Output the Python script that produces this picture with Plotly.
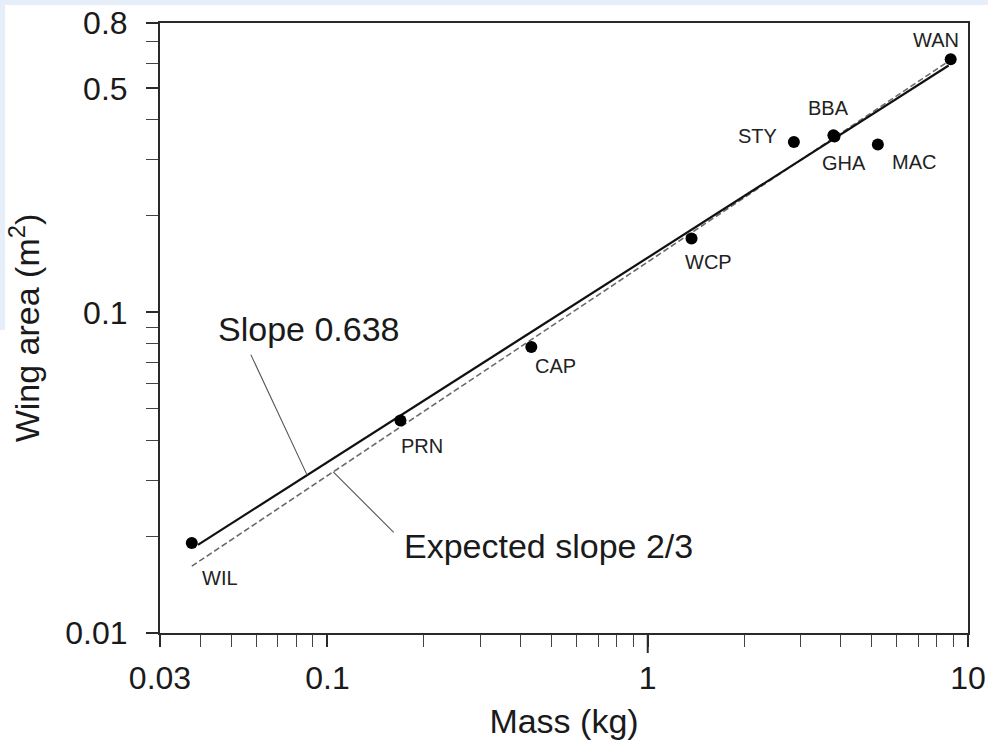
import numpy as np
import plotly.graph_objects as go

# ---- data ----
species = ["WIL", "PRN", "CAP", "WCP", "STY", "BBA", "GHA", "MAC", "WAN"]
mass_kg = [0.0377, 0.169, 0.433, 1.37, 2.86, 3.80, 3.83, 5.23, 8.83]
wing_area_m2 = [0.0191, 0.046, 0.078, 0.170, 0.340, 0.357, 0.354, 0.334, 0.617]

fit_slope = 0.638
fit_log_intercept = -0.829
fit_x_range = [0.0394, 8.70]

expected_slope = 2 / 3
expected_log_intercept = -0.8425
expected_x_range = [0.0377, 8.62]

x_tick_vals = [0.03, 0.1, 1, 10]
x_tick_text = ["0.03", "0.1", "1", "10"]
y_tick_vals = [0.01, 0.1, 0.5, 0.8]
y_tick_text = ["0.01", "0.1", "0.5", "0.8"]
x_minor = [0.04, 0.05, 0.06, 0.07, 0.08, 0.09, 0.2, 0.3, 0.4, 0.5, 0.6, 0.7, 0.8, 0.9,
           2, 3, 4, 5, 6, 7, 8, 9]
y_minor = [0.02, 0.03, 0.04, 0.05, 0.06, 0.07, 0.08, 0.09, 0.2, 0.3, 0.4, 0.6, 0.7]
x_decades = [0.1, 1, 10]
y_decades = [0.01, 0.1]


def power_line(xr, slope, logb):
    xs = np.array(xr)
    return xs, 10 ** (logb + slope * np.log10(xs))


FONT = "Liberation Sans, Arial, Helvetica, sans-serif"
AX = "#2a2a2a"

fig = go.Figure()

fx, fy = power_line(fit_x_range, fit_slope, fit_log_intercept)
ex, ey = power_line(expected_x_range, expected_slope, expected_log_intercept)

fig.add_trace(go.Scatter(x=ex, y=ey, mode="lines",
                         line=dict(color="#6a6a6a", width=1.6, dash="6px,3px"),
                         showlegend=False, hoverinfo="skip"))
fig.add_trace(go.Scatter(x=fx, y=fy, mode="lines",
                         line=dict(color="#111111", width=2.2),
                         showlegend=False, hoverinfo="skip"))
fig.add_trace(go.Scatter(x=mass_kg, y=wing_area_m2, mode="markers",
                         marker=dict(color="black", size=12),
                         text=species, showlegend=False))

# point labels: pixel offsets from each point
label_offsets = {
    "WIL": (28, -35), "PRN": (22, -25), "CAP": (24, -19), "WCP": (17, -23),
    "STY": (-36, 6), "BBA": (-5, 27), "GHA": (9, -26), "MAC": (36, -17),
    "WAN": (-15, 19),
}
for s, xv, yv in zip(species, mass_kg, wing_area_m2):
    dx, dy = label_offsets[s]
    fig.add_annotation(x=np.log10(xv), y=np.log10(yv), text=s, showarrow=False,
                       xshift=dx, yshift=dy, xanchor="center", yanchor="middle",
                       font=dict(family=FONT, size=20, color="#222"))

# leader lines from the labels to the two lines
lead1_x = 0.0864
lead1_y = 10 ** (fit_log_intercept + fit_slope * np.log10(lead1_x))
fig.add_annotation(x=np.log10(lead1_x), y=np.log10(lead1_y), ax=-57, ay=-122,
                   showarrow=True, arrowhead=0, arrowwidth=1.1, arrowcolor="#555",
                   text="")
lead2_x = 0.1042
lead2_y = 10 ** (expected_log_intercept + expected_slope * np.log10(lead2_x))
fig.add_annotation(x=np.log10(lead2_x), y=np.log10(lead2_y), ax=62, ay=62,
                   showarrow=True, arrowhead=0, arrowwidth=1.1, arrowcolor="#555",
                   text="")

fig.add_annotation(xref="paper", yref="paper", x=(216 - 160) / 808, y=(633 - 329) / 610,
                   xanchor="left", yanchor="middle", showarrow=False,
                   text="Slope 0.638", font=dict(family=FONT, size=34, color="#1a1a1a"))
fig.add_annotation(xref="paper", yref="paper", x=(402 - 160) / 808, y=(633 - 546) / 610,
                   xanchor="left", yanchor="middle", showarrow=False,
                   text="Expected slope 2/3", font=dict(family=FONT, size=34, color="#1a1a1a"))

# longer ticks at decades
shapes = []
for v in x_decades:
    shapes.append(dict(type="line", xref="x", yref="y domain", x0=np.log10(v), x1=np.log10(v),
                       y0=0, y1=-20 / 610, line=dict(color=AX, width=2)))
for v in y_decades:
    shapes.append(dict(type="line", xref="x domain", yref="y", y0=np.log10(v), y1=np.log10(v),
                       x0=0, x1=-18 / 808, line=dict(color=AX, width=2)))
# light blue page edges
shapes.append(dict(type="rect", xref="paper", yref="paper", layer="below",
                   x0=-160 / 808, x1=1 + 20 / 808, y0=1 + 18 / 610, y1=1 + 23 / 610,
                   fillcolor="#e6eef9", line=dict(width=0)))
shapes.append(dict(type="rect", xref="paper", yref="paper", layer="below",
                   x0=-160 / 808, x1=-155 / 808, y0=(633 - 330) / 610, y1=1 + 23 / 610,
                   fillcolor="#e6eef9", line=dict(width=0)))
fig.update_layout(shapes=shapes)

fig.update_xaxes(type="log", range=[np.log10(0.03), 1],
                 tickvals=x_tick_vals, ticktext=x_tick_text,
                 ticks="outside", ticklen=12, tickwidth=1.6, tickcolor=AX,
                 minor=dict(tickvals=x_minor, ticks="outside", ticklen=12,
                            tickwidth=1.4, tickcolor="#444"),
                 showline=True, linecolor=AX, linewidth=2, mirror=True,
                 showgrid=False, zeroline=False,
                 tickfont=dict(family=FONT, size=32, color="#1a1a1a"),
                 ticklabelstandoff=4,
                 title=dict(text="Mass (kg)", standoff=14,
                            font=dict(family=FONT, size=34, color="#1a1a1a")))
fig.update_yaxes(type="log", range=[-2, np.log10(0.8)],
                 tickvals=y_tick_vals, ticktext=y_tick_text,
                 ticks="outside", ticklen=12, tickwidth=1.6, tickcolor=AX,
                 minor=dict(tickvals=y_minor, ticks="outside", ticklen=12,
                            tickwidth=1.4, tickcolor="#444"),
                 showline=True, linecolor=AX, linewidth=2, mirror=True,
                 showgrid=False, zeroline=False,
                 tickfont=dict(family=FONT, size=32, color="#1a1a1a"),
                 ticklabelstandoff=12,
                 title=dict(text="Wing area (m<sup>2</sup>)", standoff=15,
                            font=dict(family=FONT, size=34, color="#1a1a1a")))

fig.update_layout(width=988, height=744,
                  margin=dict(l=160, r=20, t=23, b=111, autoexpand=False),
                  paper_bgcolor="white", plot_bgcolor="white",
                  showlegend=False)

fig.write_html("out.html", config={"displayModeBar": False},
               post_script="document.body.style.margin='0';document.body.style.overflow='hidden';")
